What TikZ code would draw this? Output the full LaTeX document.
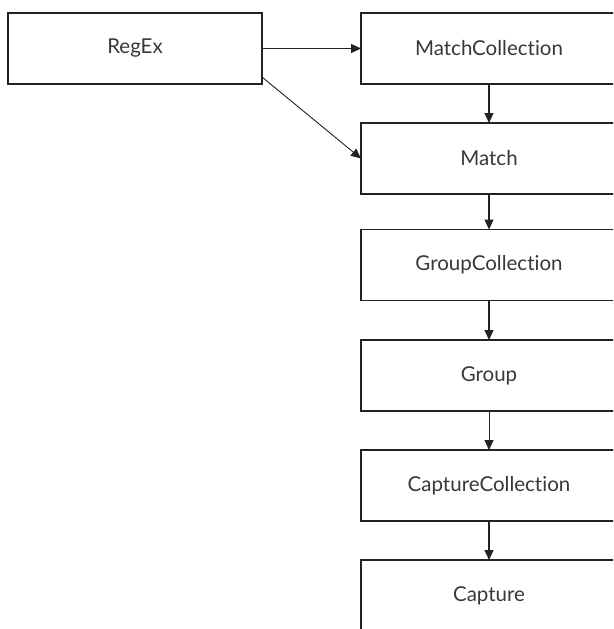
\documentclass[tikz,border=0pt]{standalone}
\usepackage{fontspec}
\setmainfont[Ligatures={NoCommon,NoRequired,NoContextual}]{Lato}
\usetikzlibrary{arrows.meta}
\definecolor{ink}{HTML}{222222}
\definecolor{txt}{HTML}{383838}
\begin{document}
\begin{tikzpicture}[x=1pt,y=-1pt,
  classbox/.style={draw=ink,line width=1.5pt,fill=white,inner sep=0pt,outer sep=0pt,
    minimum height=71pt,text=txt,font=\fontsize{20.5}{24}\selectfont},
  leftbox/.style={classbox,minimum width=254pt},
  colbox/.style={classbox,minimum width=256pt},
  link/.style={draw=ink,line width=1.2pt,-{Triangle[length=10pt,width=9pt]}}]
\useasboundingbox (0,0) rectangle (613,629);
\clip (0,0) rectangle (613,629);
\fill[white] (0,0) rectangle (613,629);
% class nodes
\node[leftbox] (regex) at (135,48.5) {RegEx};
\node[colbox] (mcoll) at (489,48.5) {MatchCollection};
\node[colbox] (match) at (489,158.5) {Match};
\node[colbox] (gcoll) at (489,265) {GroupCollection};
\node[colbox] (group) at (489,375.5) {Group};
\node[colbox] (ccoll) at (489,485.5) {CaptureCollection};
\node[colbox] (capt) at (489,595.5) {Capture};
% connectors
\draw[link] (regex.east) -- (mcoll.west);
\draw[link,line width=0.9pt] ([yshift=7pt]regex.south east) -- (match.west);
\draw[link] (mcoll) -- (match);
\draw[link] (match) -- (gcoll);
\draw[link] (gcoll) -- (group);
\draw[link,line width=0.8pt] (group) -- (ccoll);
\draw[link] (ccoll) -- (capt);
\end{tikzpicture}
\end{document}
